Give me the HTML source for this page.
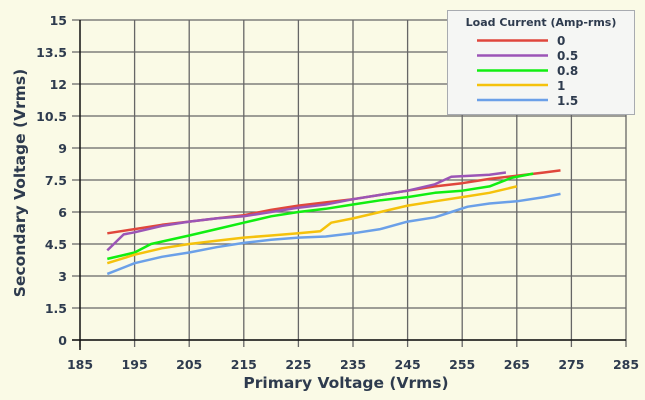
<!DOCTYPE html>
<html><head><meta charset="utf-8"><style>
html,body{margin:0;padding:0;background:#fafae6;}
svg{display:block;font-family:"DejaVu Sans",sans-serif;}
</style></head><body>
<svg id="s" width="645" height="400" xmlns="http://www.w3.org/2000/svg">
<rect width="645" height="400" fill="#fafae6"/>
<g id="grid" stroke="#666" stroke-width="1.3"></g>
<g id="lab" fill="#2e3b4e" font-weight="bold" font-size="12.5"></g>
<line x1="80" y1="20" x2="80" y2="350" stroke="#111" stroke-width="1.5"/>
<line x1="72" y1="340" x2="626" y2="340" stroke="#111" stroke-width="1.5"/>
<text x="346" y="388" text-anchor="middle" fill="#2e3b4e" font-weight="bold" font-size="15.5">Primary Voltage (Vrms)</text>
<text transform="translate(25,183) rotate(-90)" text-anchor="middle" fill="#2e3b4e" font-weight="bold" font-size="15.5">Secondary Voltage (Vrms)</text>
<g id="ser" fill="none" stroke-width="2.5" stroke-linejoin="round"></g>
<rect x="447.5" y="10.5" width="187" height="104" fill="#f5f6f4" stroke="#a8abb0" stroke-width="1"/>
<text x="541" y="26" text-anchor="middle" fill="#2e3b4e" font-weight="bold" font-size="11">Load Current (Amp-rms)</text>
<g stroke-width="2.5">
<line x1="477" y1="40.5" x2="548" y2="40.5" stroke="#e0473c"/>
<line x1="477" y1="55.5" x2="548" y2="55.5" stroke="#9b55b6"/>
<line x1="477" y1="70.5" x2="548" y2="70.5" stroke="#11ee11"/>
<line x1="477" y1="85" x2="548" y2="85" stroke="#f5c20c"/>
<line x1="477" y1="100" x2="548" y2="100" stroke="#6ba0e8"/>
</g>
<g fill="#2e3b4e" font-weight="bold" font-size="12">
<text x="557" y="45">0</text><text x="557" y="60">0.5</text><text x="557" y="75">0.8</text><text x="557" y="90">1</text><text x="557" y="105">1.5</text>
</g>
</svg>
<script>
const NS="http://www.w3.org/2000/svg";
const X=v=>80+(v-185)*5.46, Y=v=>340-v*21.333;
const g=document.getElementById('grid'),l=document.getElementById('lab'),s=document.getElementById('ser');
function el(p,t,a,txt){const e=document.createElementNS(NS,t);for(const k in a)e.setAttribute(k,a[k]);if(txt!=null)e.textContent=txt;p.appendChild(e);}
for(let i=0;i<=10;i++){const v=185+i*10,x=X(v);if(i>0)el(g,'line',{x1:x,y1:20,x2:x,y2:347});else el(g,'line',{x1:x,y1:340,x2:x,y2:347});el(l,'text',{x:x,y:369,'text-anchor':'middle'},v);}
for(let i=0;i<=10;i++){const v=i*1.5,y=Y(v);el(g,'line',{x1:72,y1:y,x2:626,y2:y});el(l,'text',{x:67,y:y+5,'text-anchor':'end'},(+v.toFixed(1)).toString());}
const D=[
["#e0473c",[[190,5.0],[195,5.2],[200,5.4],[205,5.55],[210,5.7],[215,5.85],[220,6.1],[225,6.3],[230,6.45],[235,6.6],[240,6.8],[245,7.0],[250,7.2],[255,7.35],[260,7.55],[265,7.7],[270,7.85],[273,7.95]]],
["#9b55b6",[[190,4.2],[193,4.95],[195,5.05],[200,5.35],[205,5.55],[210,5.7],[215,5.8],[220,6.0],[225,6.2],[230,6.35],[235,6.6],[240,6.8],[245,7.0],[250,7.3],[253,7.65],[260,7.75],[263,7.85]]],
["#11ee11",[[190,3.8],[195,4.1],[198,4.5],[205,4.9],[210,5.2],[215,5.5],[220,5.8],[225,6.0],[230,6.15],[235,6.35],[240,6.55],[245,6.7],[250,6.9],[255,7.0],[260,7.2],[264,7.6],[268,7.8]]],
["#f5c20c",[[190,3.6],[195,4.0],[200,4.3],[205,4.5],[210,4.65],[215,4.8],[220,4.9],[225,5.0],[229,5.1],[231,5.5],[235,5.7],[240,6.0],[245,6.3],[250,6.5],[255,6.7],[260,6.9],[265,7.2]]],
["#6ba0e8",[[190,3.1],[195,3.6],[200,3.9],[205,4.1],[210,4.35],[215,4.55],[220,4.7],[225,4.8],[230,4.85],[235,5.0],[240,5.2],[245,5.55],[250,5.75],[253,6.0],[256,6.25],[260,6.4],[265,6.5],[270,6.7],[273,6.85]]]];
for(const [c,p] of D)el(s,'polyline',{stroke:c,points:p.map(q=>X(q[0]).toFixed(1)+','+Y(q[1]).toFixed(1)).join(' ')});
</script>
</body></html>
